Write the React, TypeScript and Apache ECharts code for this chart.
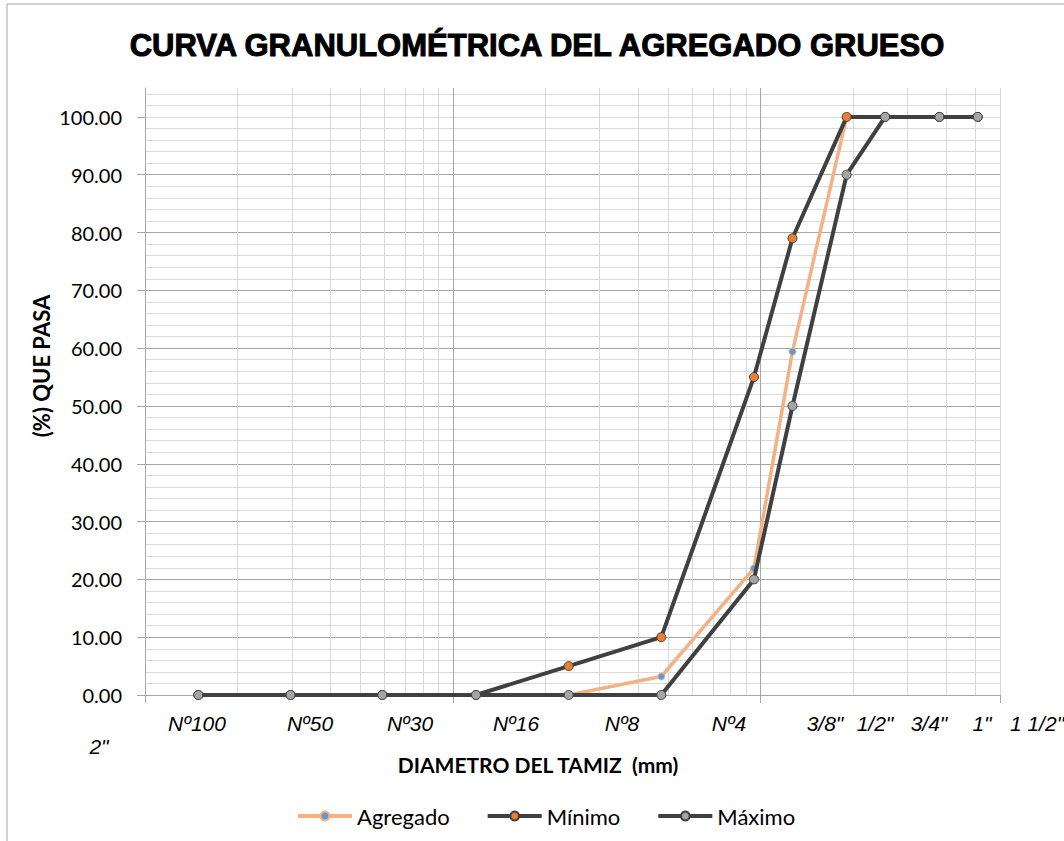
import React, { useEffect, useRef } from 'react';
import * as echarts from 'echarts';

// Sieve openings (mm) and % passing
const sieveSizes = [0.149, 0.297, 0.59, 1.19, 2.38, 4.76, 9.52, 12.7, 19.05, 25.4, 38.1, 50.8];
const agregado = [0, 0, 0, 0, 0, 3.2, 21.9, 59.4, 100, 100, 100, 100];
const minimo = [0, 0, 0, 0, 5, 10, 55, 79, 100, 100, 100, 100];
const maximo = [0, 0, 0, 0, 0, 0, 20, 50, 90, 100, 100, 100];

const sieveLabels = ['Nº100', 'Nº50', 'Nº30', 'Nº16', 'Nº8', 'Nº4', '3/8"', '1/2"', '3/4"', '1"', '1 1/2"', '2"'];
const yTicks = [0, 10, 20, 30, 40, 50, 60, 70, 80, 90, 100];
const minorX = [0.2, 0.3, 0.4, 0.5, 0.6, 0.7, 0.8, 0.9, 2, 3, 4, 5, 6, 7, 8, 9, 20, 30, 40, 50, 60];

// layout of the (text-box) sieve labels under the axis
const labelPos: [number, number][] = [
  [197, 723], [310, 723], [410, 723], [516, 723], [622, 723], [729, 723],
  [825, 723], [875, 723], [929, 723], [982, 723], [1037, 723], [99, 746],
];

export default function App() {
  const ref = useRef<HTMLDivElement>(null);
  useEffect(() => {
    const chart = echarts.init(ref.current!, null, { renderer: 'svg' });
    const pts = (vals: number[]) => sieveSizes.map((s, i) => [s, vals[i]]);
    const dark = '#404040';
    const option: any = {
      animation: false,
      backgroundColor: '#ffffff',
      grid: { left: 145, right: 64, top: 88, bottom: 146, containLabel: false },
      xAxis: {
        type: 'log',
        logBase: 10,
        min: 0.1,
        max: 60,
        axisLine: { show: true, onZero: false, lineStyle: { color: '#a6a6a6', width: 1 } },
        axisTick: { show: true, length: 8, lineStyle: { color: '#a6a6a6' } },
        axisLabel: { show: false },
        splitLine: { show: true, showMaxLine: false, lineStyle: { color: '#a6a6a6', width: 1 } },
      },
      yAxis: [
        {
          type: 'value', min: 0, max: 105, interval: 2,
          axisLine: { show: false }, axisTick: { show: false }, axisLabel: { show: false },
          splitLine: { show: true, showMaxLine: false, lineStyle: { color: '#d9d9d9', width: 1 } },
        },
        {
          type: 'value', min: 0, max: 105, interval: 10, position: 'left', offset: 0,
          axisLine: { show: true, lineStyle: { color: '#a6a6a6', width: 1 } },
          axisTick: { show: true, length: 8, customValues: yTicks, lineStyle: { color: '#a6a6a6' } },
          axisLabel: {
            customValues: yTicks,
            formatter: (v: number) => (v <= 100 ? v.toFixed(2) : ''),
            margin: 23, fontFamily: 'Lato', fontSize: 20, color: '#000',
          },
          splitLine: { show: true, showMaxLine: false, lineStyle: { color: '#a6a6a6', width: 1 } },
        },
      ],
      legend: {
        data: ['Agregado', 'Mínimo', 'Máximo'],
        left: 291,
        top: 800,
        itemWidth: 54,
        itemHeight: 11,
        itemGap: 36,
        lineStyle: { width: 4 },
        textStyle: { fontFamily: 'Lato', fontSize: 22, color: '#000' },
      },
      series: [
        {
          name: 'grid', type: 'line', data: [], z: 1, silent: true, yAxisIndex: 1,
          markLine: {
            z: 1, silent: true, symbol: ['none', 'none'], label: { show: false },
            lineStyle: { color: '#d9d9d9', width: 1, type: 'solid' },
            emphasis: { disabled: true },
            data: minorX.map((v) => ({ xAxis: v })),
          },
        },
        {
          name: 'Agregado', type: 'line', yAxisIndex: 1, data: pts(agregado), z: 3,
          lineStyle: { color: '#F4B183', width: 3.5 },
          symbol: 'circle', symbolSize: 7,
          itemStyle: { color: '#5B9BD5', borderColor: '#F4B183', borderWidth: 1 },
        },
        {
          name: 'Mínimo', type: 'line', yAxisIndex: 1, data: pts(minimo), z: 4,
          lineStyle: { color: dark, width: 4 },
          symbol: 'circle', symbolSize: 9,
          itemStyle: { color: '#ED7D31', borderColor: dark, borderWidth: 1 },
        },
        {
          name: 'Máximo', type: 'line', yAxisIndex: 1, data: pts(maximo), z: 5,
          lineStyle: { color: dark, width: 4 },
          symbol: 'circle', symbolSize: 9,
          itemStyle: { color: '#A5A5A5', borderColor: dark, borderWidth: 1 },
        },
      ],
      graphic: [
        {
          type: 'rect', silent: true, z: -1,
          shape: { x: 7, y: 4, width: 1200, height: 1000 },
          style: { fill: 'none', stroke: '#a6a6a6', lineWidth: 1 },
        },
        {
          type: 'text', x: 537, y: 45,
          style: {
            text: 'CURVA GRANULOMÉTRICA DEL AGREGADO GRUESO',
            font: 'bold 31px "Liberation Sans"', fill: '#000',
            stroke: '#000', lineWidth: 1,
            align: 'center', verticalAlign: 'middle',
          },
        },
        {
          type: 'text', x: 538, y: 764,
          style: {
            text: 'DIAMETRO DEL TAMIZ  (mm)',
            font: 'bold 21px Lato', fill: '#000',
            align: 'center', verticalAlign: 'middle',
          },
        },
        {
          type: 'text', x: 41, y: 366, rotation: Math.PI / 2,
          style: {
            text: '(%) QUE PASA',
            font: 'bold 22px Lato', fill: '#000',
            align: 'center', verticalAlign: 'middle',
          },
        },
        ...sieveLabels.map((t, i) => ({
          type: 'text', x: labelPos[i][0], y: labelPos[i][1],
          style: {
            text: t, font: 'italic 21px "Liberation Sans"', fill: '#000',
            align: 'center', verticalAlign: 'middle',
          },
        })),
      ],
    };
    chart.setOption(option);
    return () => chart.dispose();
  }, []);
  return (
    <div
      ref={ref}
      style={{ position: 'fixed', left: 0, top: 0, width: 1064, height: 841, background: '#fff' }}
    />
  );
}
